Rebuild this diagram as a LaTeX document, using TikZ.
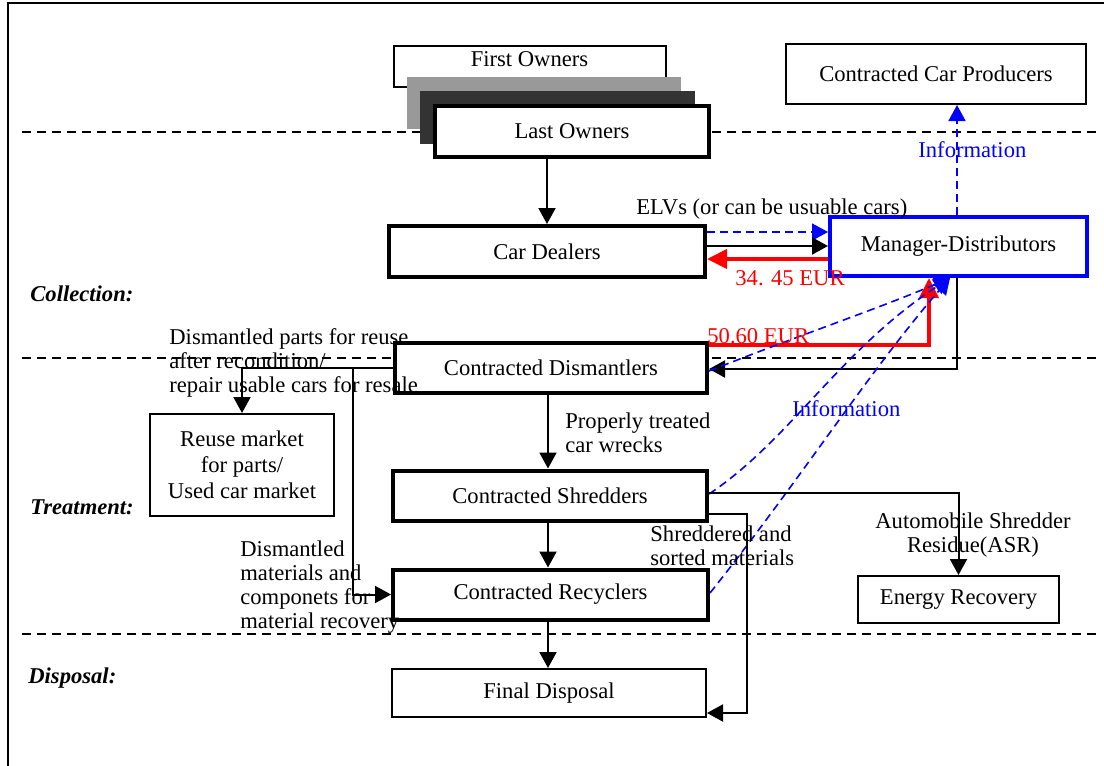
\documentclass[tikz,border=0pt]{standalone}
\usepackage{fontspec}
\setmainfont{Liberation Serif}
\usepackage{tikz}
\usetikzlibrary{arrows.meta}

\begin{document}
\begin{tikzpicture}[x=0.5pt, y=-0.5pt,
	every node/.style = {font=\fontsize{11.3}{12}\selectfont},
	box/.style = {draw, fill=white, line width=1pt, inner sep=0pt},
	bbox/.style = {box, line width=2pt},
	lbl/.style = {anchor=base west, align=left, inner sep=0pt},
	sec/.style = {anchor=base west, inner sep=0pt, font=\fontsize{11.3}{12}\selectfont\bfseries\itshape},
	arr/.style = {line width=1pt, -{Triangle[length=8pt,width=8.5pt]}},
	rarr/.style = {red, line width=2pt, -{Triangle[length=10pt,width=9.5pt]}},
	barr/.style = {blue, line width=0.8pt, dash pattern=on 4pt off 2.5pt, -{Triangle[length=8pt,width=8.5pt]}},
	sep/.style = {line width=1.2pt, dash pattern=on 4.5pt off 3pt}]
	\useasboundingbox (0,0) rectangle (1104,766);
	\draw[line width=1.3pt] (1104,3) -- (8,3) -- (8,766);
	\draw[sep] (22,132) -- (1100,132);
	\draw[sep] (22,358) -- (1100,358);
	\draw[sep] (22,634) -- (1100,634);
	
	\node[box, text depth=7.5pt, minimum width=136pt, minimum height=20.5pt] (fo) at (529.5,66.5) {First Owners};
	\node[fill=black!40, minimum width=137pt, minimum height=26pt, inner sep=0pt] (o2) at (544,103) {};
	\node[fill=black!80, minimum width=137.5pt, minimum height=26.5pt, inner sep=0pt] (o3) at (557.5,117.5) {};
	\node[bbox, minimum width=137pt, minimum height=25.5pt] (lo) at (572,131.5) {Last Owners};
	\node[box, minimum width=150pt, minimum height=30pt] (ccp) at (936,74) {Contracted Car Producers};
	\node[bbox, minimum width=158pt, minimum height=25.5pt] (cd) at (547,251.5) {Car Dealers};
	\node[bbox, draw=blue, minimum width=128.5pt, minimum height=29.5pt] (md) at (958.5,246.5) {Manager-Distributors};
	\node[bbox, minimum width=156pt, minimum height=25pt] (dis) at (551,368) {Contracted Dismantlers};
	\node[box, align=center, font=\fontsize{11.3}{13}\selectfont, minimum width=92pt, minimum height=51pt] (rm) at (242,465) {Reuse market\\for parts/\\Used car market};
	\node[bbox, minimum width=157pt, minimum height=25pt] (shr) at (550,495.5) {Contracted Shredders};
	\node[bbox, minimum width=157.5pt, minimum height=25pt] (rec) at (550.5,594.5) {Contracted Recyclers};
	\node[box, minimum width=100.5pt, minimum height=23.5pt] (er) at (958.5,599.5) {Energy Recovery};
	\node[box, minimum width=157pt, minimum height=24pt] (fd) at (549,693) {Final Disposal};
	
	\draw[arr] (cd.north |- lo.south) -- (cd.north);
	\draw[barr] (cd.east |- 0,232) -- (md.west |- 0,232);
	\draw[arr] (cd.east |- 0,246) -- (md.west |- 0,246);
	\draw[rarr] (md.west |- 0,259) -- (cd.east |- 0,259);
	\draw[rarr] (dis.east |- 0,345) -| (md.south -| 929,0);
	\draw[arr] (md.south -| 957,0) |- (dis.east |- 0,369);
	\draw[barr] (dis.east |- 0,371) .. controls (800,335) and (880,308) .. (md.south -| 950,0);
	\draw[barr] (shr.east |- 0,494) .. controls (790,440) and (840,350) .. (md.south -| 950,0);
	\draw[barr] (rec.east |- 0,593) .. controls (800,480) and (870,370) .. (md.south -| 950,0);
	\draw[barr] (md.north -| 957,0) -- (ccp.south -| 957,0);
	\draw[arr] (dis.south -| 548,0) -- (shr.north -| 548,0);
	\draw[arr] (shr.south -| 548,0) -- (rec.north -| 548,0);
	\draw[arr] (rec.south -| 548,0) -- (fd.north -| 548,0);
	\draw[arr] (shr.east |- 0,493) -| (er.north);
	\draw[arr] (shr.east |- 0,514) -- (747,514) |- (fd.east |- 0,713);
	\draw[arr] (dis.west) -| (rm.north);
	\draw[arr] (dis.west -| 353,0) |- (rec.west);
	
	\node[lbl] (elv) at (636,214) {ELVs (or can be usuable cars)};
	\node[lbl, red] (p1) at (735,285) {34. 45 EUR};
	\node[lbl, red] (p2) at (707,343) {50.60 EUR};
	\node[lbl, blue] (i1) at (918,157) {Information};
	\node[lbl, blue] (i2) at (792,416) {Information};
	\node[lbl] (t1) at (169,392) {Dismantled parts for reuse\\after recondition/\\repair usable cars for resale};
	\node[lbl] (t2) at (565,452) {Properly treated\\car wrecks};
	\node[lbl] (t3) at (240,628) {Dismantled\\materials and\\componets for\\material recovery};
	\node[lbl] (t4) at (650,565) {Shreddered and\\sorted materials};
	\node[lbl, anchor=base, align=center] (t5) at (973,552) {Automobile Shredder\\Residue(ASR)};
	\node[sec] (s1) at (30,301) {Collection:};
	\node[sec] (s2) at (30,514) {Treatment:};
	\node[sec] (s3) at (28,683) {Disposal:};
\end{tikzpicture}
\end{document}
